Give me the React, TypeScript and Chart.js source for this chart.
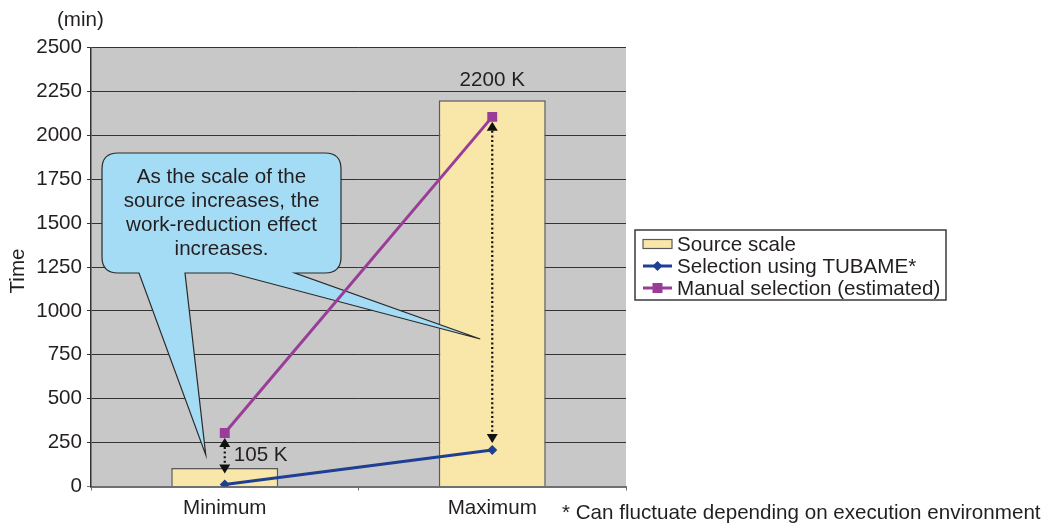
import React, { useEffect, useRef } from "react";
import { Chart, registerables } from "chart.js";

Chart.register(...registerables);

const categories = ["Minimum", "Maximum"];
const sourceScale = [105, 2200];
const sourceScaleLabels = ["105 K", "2200 K"];
const tubameTime = [12, 208];
const manualTime = [305, 2105];
const yTicksMax = 2500;
const yTickStep = 250;
const seriesNames = ["Source scale", "Selection using TUBAME*", "Manual selection (estimated)"];
const calloutLines = ["As the scale of the", "source increases, the", "work-reduction effect", "increases."];
const footnote = "* Can fluctuate depending on execution environment";

const FONT = '"Liberation Sans", Arial, Helvetica, sans-serif';
const FS = 20.6;
const TEXT = "#231f20";
const BAR_FILL = "#f9e6a9";
const BAR_BORDER = "#5a5a5a";
const BLUE = "#1f3f94";
const PURPLE = "#993d99";
const PLOT_BG = "#c8c8c8";
const CALLOUT_FILL = "#a5dcf5";

const bgPlugin = {
  id: "plotBg",
  beforeDraw(chart: any) {
    const { ctx, chartArea } = chart;
    ctx.save();
    ctx.fillStyle = PLOT_BG;
    ctx.fillRect(chartArea.left, chartArea.top, chartArea.right - chartArea.left, chartArea.bottom - chartArea.top);
    ctx.restore();
  },
};

const calloutPlugin = {
  id: "callout",
  afterDatasetDraw(chart: any, args: any) {
    if (args.index !== 0) return;
    const { ctx } = chart;
    const xs = chart.scales.x;
    const ys = chart.scales.y;
    const tip1x = xs.getPixelForValue(0) - 19;
    const tip1y = ys.getPixelForValue(180);
    const tip2x = xs.getPixelForValue(1) - 12;
    const tip2y = ys.getPixelForValue(840);
    const L = 102, T = 153, R = 341, B = 273, r = 16;
    ctx.save();
    ctx.beginPath();
    ctx.moveTo(L + r, T);
    ctx.lineTo(R - r, T);
    ctx.quadraticCurveTo(R, T, R, T + r);
    ctx.lineTo(R, B - r);
    ctx.quadraticCurveTo(R, B, R - r, B);
    ctx.lineTo(295, B);
    ctx.lineTo(tip2x, tip2y);
    ctx.lineTo(231, B);
    ctx.lineTo(185, B);
    ctx.lineTo(tip1x, tip1y);
    ctx.lineTo(139, B);
    ctx.lineTo(L + r, B);
    ctx.quadraticCurveTo(L, B, L, B - r);
    ctx.lineTo(L, T + r);
    ctx.quadraticCurveTo(L, T, L + r, T);
    ctx.closePath();
    ctx.fillStyle = CALLOUT_FILL;
    ctx.fill();
    ctx.strokeStyle = "#2a2a2a";
    ctx.lineWidth = 1.2;
    ctx.stroke();
    ctx.fillStyle = TEXT;
    ctx.font = `${FS}px ${FONT}`;
    ctx.textAlign = "center";
    ctx.textBaseline = "middle";
    calloutLines.forEach((line, i) => {
      ctx.fillText(line, (L + R) / 2, 177 + i * 24);
    });
    ctx.restore();
  },
};

function drawArrowHead(ctx: CanvasRenderingContext2D, x: number, tipY: number, dir: number) {
  ctx.beginPath();
  ctx.moveTo(x, tipY);
  ctx.lineTo(x - 5.5, tipY - dir * 9);
  ctx.lineTo(x + 5.5, tipY - dir * 9);
  ctx.closePath();
  ctx.fill();
}

const annotationPlugin = {
  id: "annot",
  afterDatasetsDraw(chart: any) {
    const { ctx } = chart;
    const xs = chart.scales.x;
    const ys = chart.scales.y;
    ctx.save();
    categories.forEach((_, i) => {
      const x = xs.getPixelForValue(i);
      const yTop = ys.getPixelForValue(manualTime[i]) + 5;
      const yBot = ys.getPixelForValue(tubameTime[i]) - (i === 0 ? 11 : 7);
      ctx.fillStyle = "#111";
      drawArrowHead(ctx, x, yTop, -1);
      drawArrowHead(ctx, x, yBot, 1);
      ctx.strokeStyle = "#111";
      ctx.lineWidth = 2.2;
      ctx.setLineDash([2, 2.6]);
      ctx.beginPath();
      ctx.moveTo(x, yTop + 9);
      ctx.lineTo(x, yBot - 9);
      ctx.stroke();
      ctx.setLineDash([]);
    });
    ctx.fillStyle = TEXT;
    ctx.font = `${FS}px ${FONT}`;
    ctx.textBaseline = "middle";
    const x0 = xs.getPixelForValue(0);
    ctx.textAlign = "left";
    ctx.fillText(sourceScaleLabels[0], x0 + 9, ys.getPixelForValue(sourceScale[0]) - 13);
    const x1 = xs.getPixelForValue(1);
    ctx.textAlign = "center";
    ctx.fillText(sourceScaleLabels[1], x1, ys.getPixelForValue(sourceScale[1]) - 20);
    ctx.restore();
  },
  afterDraw(chart: any) {
    const { ctx } = chart;
    ctx.save();
    ctx.fillStyle = TEXT;
    ctx.font = `${FS}px ${FONT}`;
    ctx.textBaseline = "middle";
    ctx.textAlign = "left";
    ctx.fillText("(min)", 57, 20);
    ctx.fillText(footnote, 562, 513);
    ctx.save();
    ctx.translate(18, 271);
    ctx.rotate(-Math.PI / 2);
    ctx.textAlign = "center";
    ctx.fillText("Time", 0, 0);
    ctx.restore();
    const LX = 635, LY = 230, LW = 311, LH = 70;
    ctx.fillStyle = "#ffffff";
    ctx.fillRect(LX, LY, LW, LH);
    ctx.strokeStyle = "#3a3a3a";
    ctx.lineWidth = 1.5;
    ctx.strokeRect(LX, LY, LW, LH);
    const rows = [244, 266, 288];
    ctx.fillStyle = BAR_FILL;
    ctx.fillRect(643, rows[0] - 4.5, 29, 9);
    ctx.strokeStyle = BAR_BORDER;
    ctx.lineWidth = 1.2;
    ctx.strokeRect(643, rows[0] - 4.5, 29, 9);
    ctx.strokeStyle = BLUE;
    ctx.lineWidth = 3;
    ctx.beginPath();
    ctx.moveTo(643, rows[1]);
    ctx.lineTo(672, rows[1]);
    ctx.stroke();
    ctx.fillStyle = BLUE;
    ctx.beginPath();
    ctx.moveTo(657.5, rows[1] - 5);
    ctx.lineTo(662.5, rows[1]);
    ctx.lineTo(657.5, rows[1] + 5);
    ctx.lineTo(652.5, rows[1]);
    ctx.closePath();
    ctx.fill();
    ctx.strokeStyle = PURPLE;
    ctx.beginPath();
    ctx.moveTo(643, rows[2]);
    ctx.lineTo(672, rows[2]);
    ctx.stroke();
    ctx.fillStyle = PURPLE;
    ctx.fillRect(652.5, rows[2] - 5, 10, 10);
    ctx.fillStyle = TEXT;
    ctx.textAlign = "left";
    seriesNames.forEach((n, i) => ctx.fillText(n, 677, rows[i] + 1));
    ctx.restore();
  },
};

export default function App() {
  const ref = useRef<HTMLCanvasElement | null>(null);
  useEffect(() => {
    if (!ref.current) return;
    Chart.defaults.font.family = FONT;
    const chart = new Chart(ref.current, {
      type: "bar",
      data: {
        labels: categories,
        datasets: [
          {
            type: "bar",
            label: seriesNames[0],
            data: sourceScale,
            backgroundColor: BAR_FILL,
            borderColor: BAR_BORDER,
            borderWidth: 1.5,
            barPercentage: 0.4,
            categoryPercentage: 1,
            order: 3,
          } as any,
          {
            type: "line",
            label: seriesNames[1],
            data: tubameTime,
            borderColor: BLUE,
            backgroundColor: BLUE,
            borderWidth: 3,
            pointStyle: "rectRot",
            pointRadius: 5,
            pointBorderWidth: 0,
            order: 2,
          } as any,
          {
            type: "line",
            label: seriesNames[2],
            data: manualTime,
            borderColor: PURPLE,
            backgroundColor: PURPLE,
            borderWidth: 3,
            pointStyle: "rect",
            pointRadius: 7,
            pointBorderWidth: 0,
            order: 1,
          } as any,
        ],
      },
      options: {
        responsive: false,
        animation: false,
        layout: { padding: { left: 0, top: 47.5, right: 425, bottom: 0 } },
        plugins: { legend: { display: false }, tooltip: { enabled: false } },
        scales: {
          x: {
            offset: true,
            grid: { drawOnChartArea: false, drawTicks: true, tickLength: 4, color: "#707070", lineWidth: 1 },
            border: { display: true, color: "#707070", width: 2 },
            ticks: { color: TEXT, font: { size: FS, family: FONT }, padding: 5, maxRotation: 0 },
            afterFit: (s: any) => { s.height = 38.5; },
          },
          y: {
            min: 0,
            max: yTicksMax,
            ticks: {
              stepSize: yTickStep,
              color: TEXT,
              font: { size: FS, family: FONT },
              padding: 5,
              callback: (v: any) => String(v),
            },
            grid: {
              color: (c: any) => (c.tick && c.tick.value === 0 ? "#707070" : "#333333"),
              lineWidth: 1,
              tickLength: 4,
              drawTicks: true,
            },
            border: { display: true, color: "#333333", width: 1.5 },
            afterFit: (s: any) => { s.width = 91; },
          },
        },
      } as any,
      plugins: [bgPlugin, calloutPlugin, annotationPlugin],
    });
    return () => chart.destroy();
  }, []);
  return (
    <div style={{ position: "fixed", left: 0, top: 0, width: 1051, height: 525, background: "#fff" }}>
      <canvas ref={ref} width={1051} height={525} style={{ display: "block" }} />
    </div>
  );
}
